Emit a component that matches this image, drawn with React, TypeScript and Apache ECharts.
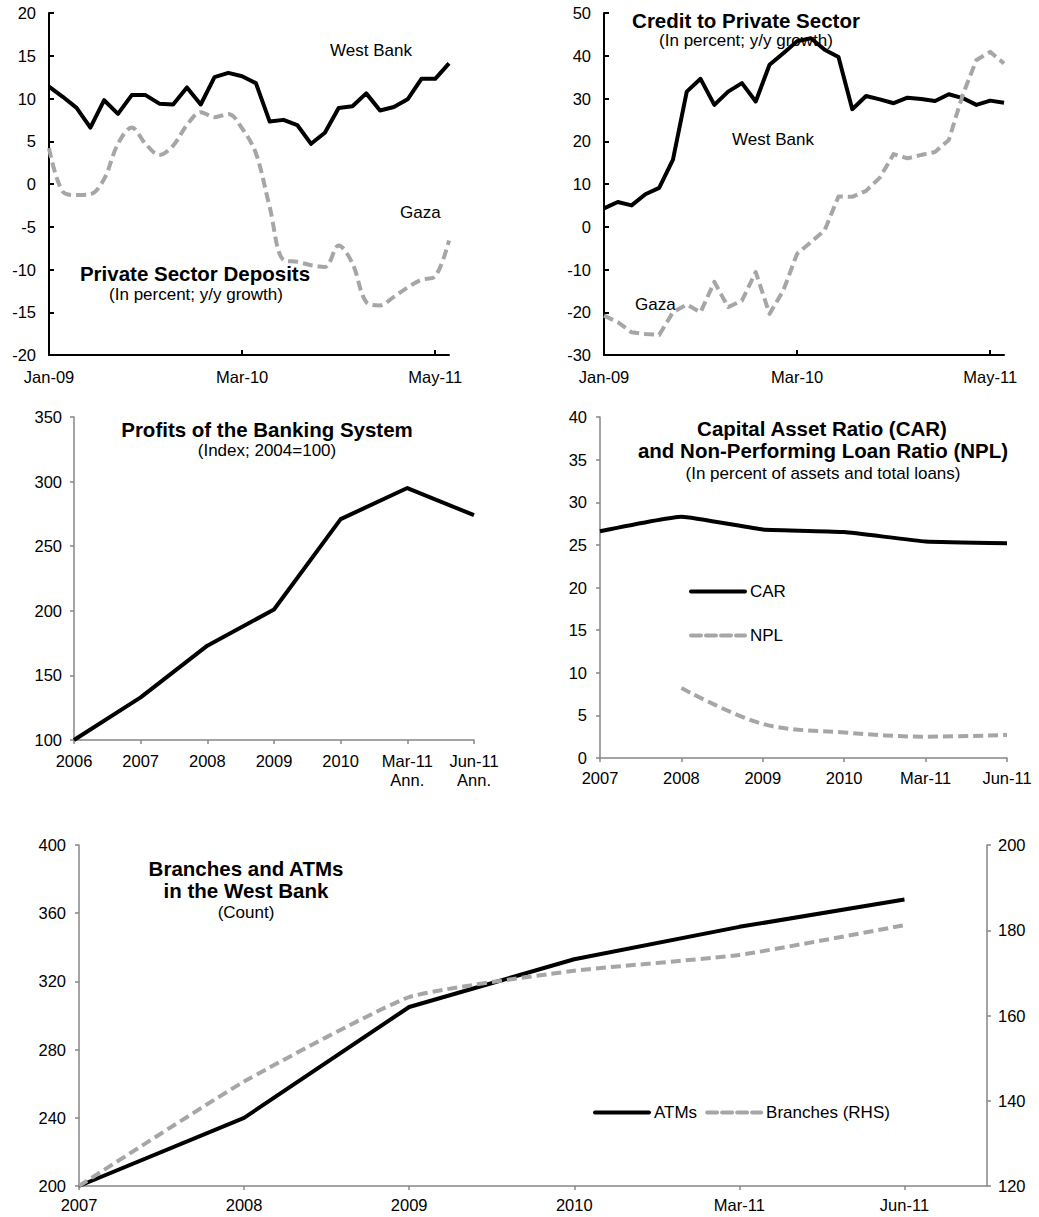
import React, { useEffect, useRef } from 'react';
import * as echarts from 'echarts';

const FONT = '"Liberation Sans", Arial, sans-serif';
const GRAY_LINE = '#A6A6A6';
const AXIS_GRAY = '#868686';

// Monthly categories (panels 1 and 2)
const months = ['Jan-09','Feb-09','Mar-09','Apr-09','May-09','Jun-09','Jul-09','Aug-09','Sep-09','Oct-09','Nov-09','Dec-09','Jan-10','Feb-10','Mar-10','Apr-10','May-10','Jun-10','Jul-10','Aug-10','Sep-10','Oct-10','Nov-10','Dec-10','Jan-11','Feb-11','Mar-11','Apr-11','May-11','Jun-11'];

// Panel 1: Private Sector Deposits (y/y growth, %)
const depositsWestBank = [11.4,10.2,8.9,6.6,9.8,8.2,10.4,10.4,9.4,9.3,11.3,9.3,12.5,13.0,12.6,11.8,7.3,7.5,6.9,4.7,6.0,8.9,9.1,10.6,8.6,9.0,9.9,12.3,12.3,14.1];
const depositsGaza = [4.2,-0.9,-1.3,-1.2,0.6,4.7,6.6,4.7,3.4,4.5,6.9,8.4,7.8,8.2,6.5,3.6,-2.7,-8.9,-9.1,-9.5,-9.7,-7.2,-9.3,-13.8,-14.2,-13.2,-12.1,-11.2,-10.8,-6.6];

// Panel 2: Credit to Private Sector (y/y growth, %)
const creditWestBank = [4.3,5.8,5.0,7.6,9.1,15.7,31.6,34.6,28.5,31.6,33.6,29.3,37.9,40.6,43.4,44.1,41.4,39.7,27.5,30.6,29.8,28.9,30.2,29.9,29.4,31.0,30.1,28.5,29.5,29.0];
const creditGaza = [-20.8,-22.3,-24.7,-25.1,-25.3,-20.0,-18.2,-20.0,-12.9,-18.8,-17.3,-10.6,-20.4,-14.9,-6.3,-3.6,-0.8,7.1,7.0,8.4,11.5,17.0,16.0,16.8,17.5,20.3,30.8,39.0,40.9,38.2];

// Panel 3: Profits of the banking system (Index; 2004=100)
const profitCategories = ['2006','2007','2008','2009','2010','Mar-11\nAnn.','Jun-11\nAnn.'];
const profitValues = [100,133,173,201,271,295,274];

// Panel 4: CAR and NPL
const ratioCategories = ['2007','2008','2009','2010','Mar-11','Jun-11'];
const carValues = [26.6,28.3,26.8,26.5,25.4,25.2];
const nplValues = [null,8.2,4.0,3.0,2.5,2.7];

// Panel 5: Branches and ATMs
const branchCategories = ['2007','2008','2009','2010','Mar-11','Jun-11'];
const atmValues = [200,240,305,333,352,368];
const branchValues = [120,144.5,164.3,170.5,174.2,181.2];

const TICK_FS = 16.5;
const TITLE_FS = 20.5;
const SUB_FS = 17;

const labelStyle = (size: number) => ({ color: '#000', fontFamily: FONT, fontSize: size });

function buildOption() {
  const blackLine = { color: '#000', width: 4, join: 'round' };
  const grayDash = { color: GRAY_LINE, width: 4, type: [10, 5], join: 'round' };

  const text = (t: string, x: number, y: number, opts: any = {}) => ({
    type: 'text',
    x, y,
    silent: true,
    style: {
      text: t,
      fill: '#000',
      font: `${opts.bold ? 'bold ' : ''}${opts.size || SUB_FS}px ${FONT}`,
      textAlign: opts.align || 'left',
      textVerticalAlign: 'middle',
    },
  });

  const blackAxis = { show: true, onZero: false, lineStyle: { color: '#000', width: 2 } };
  const grayAxis = { show: true, onZero: false, lineStyle: { color: AXIS_GRAY, width: 1.5 } };
  const blackTickIn = { show: true, inside: true, length: 5, lineStyle: { color: '#000', width: 2 } };
  const grayTick = { show: true, length: 4, lineStyle: { color: AXIS_GRAY, width: 1.5 } };

  return {
    animation: false,
    grid: [
      { left: 49, top: 13, width: 400, height: 342 },
      { left: 604, top: 13, width: 400, height: 342 },
      { left: 74, top: 417, width: 400, height: 323 },
      { left: 600, top: 417, width: 407, height: 341 },
      { left: 79, top: 845, width: 908, height: 341 },
    ],
    xAxis: [
      {
        gridIndex: 0, type: 'category', data: months, boundaryGap: false,
        axisLine: blackAxis,
        axisTick: { ...blackTickIn, interval: 13 },
        axisLabel: { ...labelStyle(TICK_FS), interval: 13, margin: 13 },
      },
      {
        gridIndex: 1, type: 'category', data: months, boundaryGap: false,
        axisLine: blackAxis,
        axisTick: { ...blackTickIn, interval: 13 },
        axisLabel: { ...labelStyle(TICK_FS), interval: 13, margin: 13 },
      },
      {
        gridIndex: 2, type: 'category', data: profitCategories, boundaryGap: false,
        axisLine: grayAxis,
        axisTick: { ...grayTick, interval: 0 },
        axisLabel: { ...labelStyle(TICK_FS), interval: 0, margin: 11, lineHeight: 19 },
      },
      {
        gridIndex: 3, type: 'category', data: ratioCategories, boundaryGap: false,
        axisLine: grayAxis,
        axisTick: { ...grayTick, interval: 0 },
        axisLabel: { ...labelStyle(TICK_FS), interval: 0, margin: 11 },
      },
      {
        gridIndex: 4, type: 'value', min: 0, max: 5.5, interval: 1,
        axisLine: grayAxis,
        splitLine: { show: false },
        axisTick: { ...grayTick, customValues: [0,1,2,3,4,5] },
        axisLabel: {
          ...labelStyle(TICK_FS), margin: 10, customValues: [0,1,2,3,4,5],
          formatter: (v: number) => branchCategories[Math.round(v)] ?? '',
        },
      },
    ],
    yAxis: [
      {
        gridIndex: 0, type: 'value', min: -20, max: 20, interval: 5,
        axisLine: blackAxis, splitLine: { show: false },
        axisTick: blackTickIn,
        axisLabel: { ...labelStyle(TICK_FS), margin: 13 },
      },
      {
        gridIndex: 1, type: 'value', min: -30, max: 50, interval: 10,
        axisLine: blackAxis, splitLine: { show: false },
        axisTick: blackTickIn,
        axisLabel: { ...labelStyle(TICK_FS), margin: 13 },
      },
      {
        gridIndex: 2, type: 'value', min: 100, max: 350, interval: 50,
        axisLine: grayAxis, splitLine: { show: false },
        axisTick: grayTick,
        axisLabel: { ...labelStyle(TICK_FS), margin: 12 },
      },
      {
        gridIndex: 3, type: 'value', min: 0, max: 40, interval: 5,
        axisLine: grayAxis, splitLine: { show: false },
        axisTick: grayTick,
        axisLabel: { ...labelStyle(TICK_FS), margin: 13 },
      },
      {
        gridIndex: 4, type: 'value', min: 200, max: 400, interval: 40, position: 'left',
        axisLine: grayAxis, splitLine: { show: false },
        axisTick: grayTick,
        axisLabel: { ...labelStyle(TICK_FS), margin: 13 },
      },
      {
        gridIndex: 4, type: 'value', min: 120, max: 200, interval: 20, position: 'right',
        axisLine: grayAxis, splitLine: { show: false },
        axisTick: grayTick,
        axisLabel: { ...labelStyle(TICK_FS), margin: 11 },
      },
    ],
    legend: [
      {
        data: ['CAR', 'NPL'], orient: 'vertical', left: 684, top: 578,
        itemWidth: 54, itemHeight: 14, itemGap: 27, selectedMode: false,
        itemStyle: { opacity: 0 },
        lineStyle: { width: 4, cap: 'round' },
        textStyle: labelStyle(SUB_FS),
      },
      {
        data: ['ATMs', 'Branches (RHS)'], orient: 'horizontal', left: 588, top: 1099,
        itemWidth: 54, itemHeight: 14, itemGap: 8, selectedMode: false,
        itemStyle: { opacity: 0 },
        lineStyle: { width: 4, cap: 'round' },
        textStyle: labelStyle(SUB_FS),
      },
    ],
    series: [
      { name: 'West Bank', type: 'line', xAxisIndex: 0, yAxisIndex: 0, data: depositsWestBank, showSymbol: false, symbol: 'none', lineStyle: blackLine, z: 3 },
      { name: 'Gaza', type: 'line', xAxisIndex: 0, yAxisIndex: 0, data: depositsGaza, showSymbol: false, symbol: 'none', smooth: 0.35, lineStyle: grayDash },
      { name: 'West Bank ', type: 'line', xAxisIndex: 1, yAxisIndex: 1, data: creditWestBank, showSymbol: false, symbol: 'none', lineStyle: blackLine, z: 3 },
      { name: 'Gaza ', type: 'line', xAxisIndex: 1, yAxisIndex: 1, data: creditGaza, showSymbol: false, symbol: 'none', lineStyle: grayDash },
      { name: 'Profits', type: 'line', xAxisIndex: 2, yAxisIndex: 2, data: profitValues, showSymbol: false, symbol: 'none', lineStyle: blackLine },
      { name: 'CAR', type: 'line', xAxisIndex: 3, yAxisIndex: 3, data: carValues, showSymbol: false, symbol: 'none', smooth: 0.12, lineStyle: blackLine, itemStyle: { color: '#000' } },
      { name: 'NPL', type: 'line', xAxisIndex: 3, yAxisIndex: 3, data: nplValues, showSymbol: false, symbol: 'none', smooth: 0.35, lineStyle: grayDash, itemStyle: { color: GRAY_LINE } },
      { name: 'ATMs', type: 'line', xAxisIndex: 4, yAxisIndex: 4, data: atmValues.map((v, i) => [i, v]), showSymbol: false, symbol: 'none', lineStyle: blackLine, itemStyle: { color: '#000' }, z: 3 },
      { name: 'Branches (RHS)', type: 'line', xAxisIndex: 4, yAxisIndex: 5, data: branchValues.map((v, i) => [i, v]), showSymbol: false, symbol: 'none', smooth: 0.15, lineStyle: grayDash, itemStyle: { color: GRAY_LINE } },
    ],
    graphic: [
      // Panel 1
      text('West Bank', 330, 50),
      text('Gaza', 400, 212),
      text('Private Sector Deposits', 195, 273, { bold: true, size: TITLE_FS, align: 'center' }),
      text('(In percent; y/y growth)', 196, 294, { align: 'center' }),
      // Panel 2
      text('Credit to Private Sector', 746, 20, { bold: true, size: TITLE_FS, align: 'center' }),
      text('(In percent; y/y growth)', 746, 40, { align: 'center' }),
      text('West Bank', 732, 139),
      text('Gaza', 635, 304),
      // Panel 3
      text('Profits of the Banking System', 267, 429, { bold: true, size: TITLE_FS, align: 'center' }),
      text('(Index; 2004=100)', 267, 450, { align: 'center' }),
      // Panel 4
      text('Capital Asset Ratio (CAR)', 822, 428, { bold: true, size: TITLE_FS, align: 'center' }),
      text('and Non-Performing Loan Ratio (NPL)', 823, 450, { bold: true, size: TITLE_FS, align: 'center' }),
      text('(In percent of assets and total loans)', 823, 473, { align: 'center' }),
      // Panel 5
      text('Branches and ATMs', 246, 868, { bold: true, size: TITLE_FS, align: 'center' }),
      text('in the West Bank', 246, 890, { bold: true, size: TITLE_FS, align: 'center' }),
      text('(Count)', 246, 912, { align: 'center' }),
    ],
  };
}

export default function App() {
  const ref = useRef<HTMLDivElement>(null);
  useEffect(() => {
    if (!ref.current) return;
    const chart = echarts.init(ref.current, null, { renderer: 'svg' });
    chart.setOption(buildOption() as any);
    return () => chart.dispose();
  }, []);
  return (
    <div
      ref={ref}
      style={{ position: 'absolute', left: 0, top: 0, width: 1039, height: 1217, background: '#fff' }}
    />
  );
}
